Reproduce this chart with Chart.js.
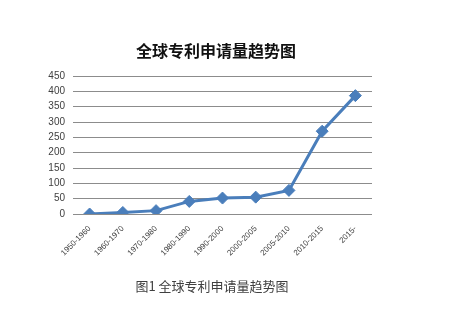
<!DOCTYPE html>
<html>
<head>
<meta charset="utf-8">
<script src="https://cdn.jsdelivr.net/npm/chart.js@4/dist/chart.umd.min.js"></script>
<style>
  html, body { margin: 0; padding: 0; background: #fff; }
  #wrap { position: relative; width: 464px; height: 312px; overflow: hidden; }
  #chart { position: absolute; left: 0; top: 0; }
  .txt { position: absolute; white-space: nowrap; font-family: "Noto Sans CJK SC", sans-serif; transform: translate(-50%, -50%); }
  #title { left: 216px; top: 50px; font-size: 16px; font-weight: bold; color: #111; }
  #caption { left: 212px; top: 285px; font-size: 13px; color: #404040; }
</style>
</head>
<body>
<div id="wrap">
  <canvas id="chart" width="464" height="312"></canvas>
  <div id="title" class="txt">全球专利申请量趋势图</div>
  <div id="caption" class="txt">图1 全球专利申请量趋势图</div>
</div>
<script>
// periods and patent application counts
var periods = ['1950-1960', '1960-1970', '1970-1980', '1980-1990', '1990-2000',
               '2000-2005', '2005-2010', '2010-2015', '2015-'];
var counts = [0, 5, 11, 41, 52, 55, 77, 270, 386];

var lineColor = '#4a7ebb';
var gridColor = '#8c8c8c';

var ctx = document.getElementById('chart').getContext('2d');

var myChart = new Chart(ctx, {
  type: 'line',
  data: {
    labels: periods,
    datasets: [{
      data: counts,
      borderColor: lineColor,
      backgroundColor: lineColor,
      borderWidth: 3,
      pointStyle: 'rectRot',
      pointRadius: 6,
      pointBorderWidth: 1,
      tension: 0,
      fill: false
    }]
  },
  options: {
    responsive: false,
    animation: false,
    layout: {
      padding: { left: 0, right: 92, top: 76, bottom: 48 }
    },
    plugins: {
      legend: { display: false },
      title: { display: false },
      tooltip: { enabled: false }
    },
    scales: {
      x: {
        offset: true,
        grid: { display: false },
        border: { display: false },
        ticks: {
          autoSkip: false,
          minRotation: 45,
          maxRotation: 45,
          padding: 2,
          color: '#404040',
          font: { family: 'Liberation Sans', size: 8 }
        },
        afterFit: function (scale) {
          scale.height = 50;
          scale.paddingLeft = 0;
          scale.paddingRight = 0;
        }
      },
      y: {
        min: 0,
        max: 450,
        grid: { color: gridColor, lineWidth: 1, drawTicks: false },
        border: { display: false },
        ticks: {
          stepSize: 50,
          padding: 8,
          color: '#404040',
          font: { family: 'Liberation Sans', size: 10 }
        },
        afterFit: function (scale) {
          scale.width = 73;
          scale.paddingTop = 0;
          scale.paddingBottom = 0;
        }
      }
    }
  }
});
</script>
</body>
</html>
